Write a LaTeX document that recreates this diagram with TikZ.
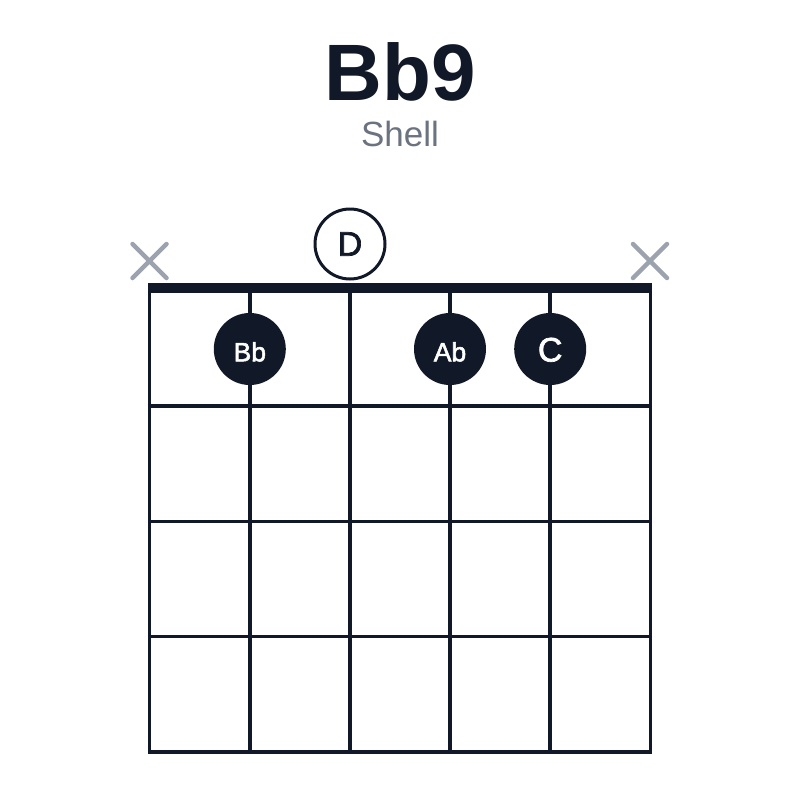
\documentclass[tikz,border=0pt]{standalone}
\usepackage{fontspec}
\setmainfont{Liberation Sans}
\newfontfamily\notefont{Liberation Sans}[FakeBold=2]
\usetikzlibrary{calc}
\definecolor{ink}{HTML}{111827}
\definecolor{xgray}{HTML}{9CA3AF}
\definecolor{subgray}{HTML}{6B7280}
\tikzset{
  gridline/.style={draw=ink, line width=3.5pt},
  nutline/.style={draw=ink, line width=9.5pt},
  mutemark/.style={draw=xgray, line width=4.5pt, line cap=round},
  fingerdot/.style={circle, fill=ink, minimum size=72pt, inner sep=0pt},
  opendot/.style={circle, draw=ink, fill=white, line width=3pt, minimum size=70pt, inner sep=0pt},
  notelbl/.style={text=white, anchor=base},
}
\begin{document}
\begin{tikzpicture}[x=1pt,y=-1pt]
\useasboundingbox (0,0) rectangle (800,800);
\fill[white] (0,0) rectangle (800,800);
% title
\node[anchor=base, text=ink, font=\fontsize{80}{90}\selectfont\bfseries, inner sep=0pt] (title) at (400,100) {Bb9};
\node[anchor=base, text=subgray, font=\fontsize{35}{40}\selectfont, inner sep=0pt] (sub) at (400,146) {Shell};
% strings
\foreach \i/\x in {1/149.5,2/249.8,3/350,4/450,5/550.2,6/650.5}{
  \coordinate (s\i top) at (\x,290);
  \coordinate (s\i bot) at (\x,753.5);
  \draw[gridline] (s\i top) -- (s\i bot);
}
% frets
\foreach \j/\y in {1/406,2/521.3,3/636.6,4/751.8}{
  \coordinate (f\j l) at (147.75,\y);
  \coordinate (f\j r) at (652.25,\y);
  \draw[gridline] (f\j l) -- (f\j r);
}
% nut
\coordinate (nutl) at (147.75,288);
\coordinate (nutr) at (652.25,288);
\draw[nutline] (nutl) -- (nutr);
% muted strings
\coordinate (x1) at (149.5,261);
\coordinate (x6) at (650,261);
\draw[mutemark] ($(x1)+(-17,-17)$) -- ($(x1)+(17,17)$) ($(x1)+(-17,17)$) -- ($(x1)+(17,-17)$);
\draw[mutemark] ($(x6)+(-17,-17)$) -- ($(x6)+(17,17)$) ($(x6)+(-17,17)$) -- ($(x6)+(17,-17)$);
% open D
\node[opendot] (d) at (350,244) {};
\node[anchor=base, text=ink, font=\notefont\fontsize{34}{40}\selectfont, inner sep=0pt] (dlbl) at (350,255.7) {D};
% fingered notes
\node[fingerdot] (bb) at (249.8,349) {};
\node[notelbl, font=\notefont\fontsize{26.5}{30}\selectfont, inner sep=0pt] (bblbl) at (249.8,361.3) {Bb};
\node[fingerdot] (ab) at (450,349) {};
\node[notelbl, font=\notefont\fontsize{26.5}{30}\selectfont, inner sep=0pt] (ablbl) at (450,361.3) {Ab};
\node[fingerdot] (c) at (550.2,349) {};
\node[notelbl, font=\notefont\fontsize{34}{40}\selectfont, inner sep=0pt] (clbl) at (550.2,361.5) {C};
\end{tikzpicture}
\end{document}
